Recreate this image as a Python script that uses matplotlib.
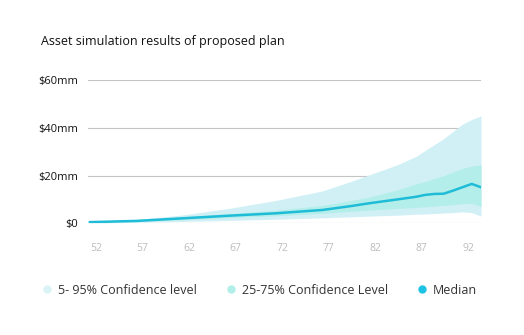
import matplotlib.pyplot as plt
from matplotlib.lines import Line2D

plt.rcParams['font.family'] = ['Open Sans', 'DejaVu Sans']

# Data (values in $mm)
ages = [52, 57, 62, 67, 72, 77, 80, 82, 85, 87, 88, 89, 90, 91, 92, 93, 94]
median = [0.5, 1.0, 2.1, 3.2, 4.2, 5.6, 7.2, 8.4, 10.0, 11.1, 11.9, 12.3, 12.4, 13.7, 15.1, 16.5, 15.1]
p95 = [0.9, 1.6, 3.5, 6.3, 9.6, 13.6, 17.5, 20.3, 24.5, 28.0, 30.5, 33.0, 35.5, 38.5, 41.5, 43.5, 45.0]
p75 = [0.7, 1.3, 2.7, 4.1, 5.5, 7.5, 9.5, 11.0, 14.0, 16.5, 17.5, 18.8, 20.0, 21.5, 23.0, 24.0, 24.5]
p25 = [0.3, 0.8, 1.5, 2.4, 3.2, 4.2, 5.0, 5.5, 6.2, 6.6, 6.9, 7.2, 7.5, 7.8, 8.2, 8.4, 7.0]
p5 = [0.1, 0.4, 0.8, 1.2, 1.7, 2.3, 2.7, 3.0, 3.4, 3.8, 3.9, 4.1, 4.3, 4.5, 4.8, 4.5, 3.0]

x_ticks = [52, 57, 62, 67, 72, 77, 82, 87, 92]
y_ticks = [0, 20, 40, 60]
y_labels = ['$0', '$20mm', '$40mm', '$60mm']

outer_col = '#d1f0f6'
inner_col = '#b4eeea'
line_col = '#1fbcd8'

fig = plt.figure(figsize=(5.24, 3.35), dpi=100)
ax = fig.add_axes([0.168, 0.3334, 0.750, 0.4276])

ax.fill_between(ages, p5, p95, color=outer_col, lw=0)
ax.fill_between(ages, p25, p75, color=inner_col, lw=0)
ax.plot(ages, median, color=line_col, lw=1.8, zorder=3)

for y in y_ticks:
    ax.axhline(y, color='#c4c4c4', lw=0.8, zorder=0)

ax.set_xlim(51.8, 94)
ax.set_ylim(0, 60)
ax.set_yticks(y_ticks)
ax.set_yticklabels(y_labels)
ax.set_xticks(x_ticks)
ax.set_xticklabels([str(t) for t in x_ticks], ha='left')
ax.tick_params(axis='y', length=0, pad=7, labelsize=8, labelcolor='#111111')
ax.tick_params(axis='x', length=0, pad=14, labelsize=7.5, labelcolor='#bdbdbd')
for s in ax.spines.values():
    s.set_visible(False)

fig.text(41 / 524, 1 - 42 / 335, 'Asset simulation results of proposed plan',
         fontsize=9, color='#111111', va='center', ha='left')

handles = [
    Line2D([], [], marker='o', ls='', color='#daf3f6', markersize=5),
    Line2D([], [], marker='o', ls='', color='#b2efe9', markersize=5),
    Line2D([], [], marker='o', ls='', color='#1dc3e3', markersize=5),
]
labels = ['5- 95% Confidence level', '25-75% Confidence Level', 'Median']
fig.legend(handles, labels, loc='center', bbox_to_anchor=(0.494, 1 - 290 / 335),
           ncol=3, frameon=False, fontsize=9, handletextpad=0.4,
           columnspacing=2.2, labelcolor='#333333', handlelength=1)

fig.savefig('out.png', dpi=100)
